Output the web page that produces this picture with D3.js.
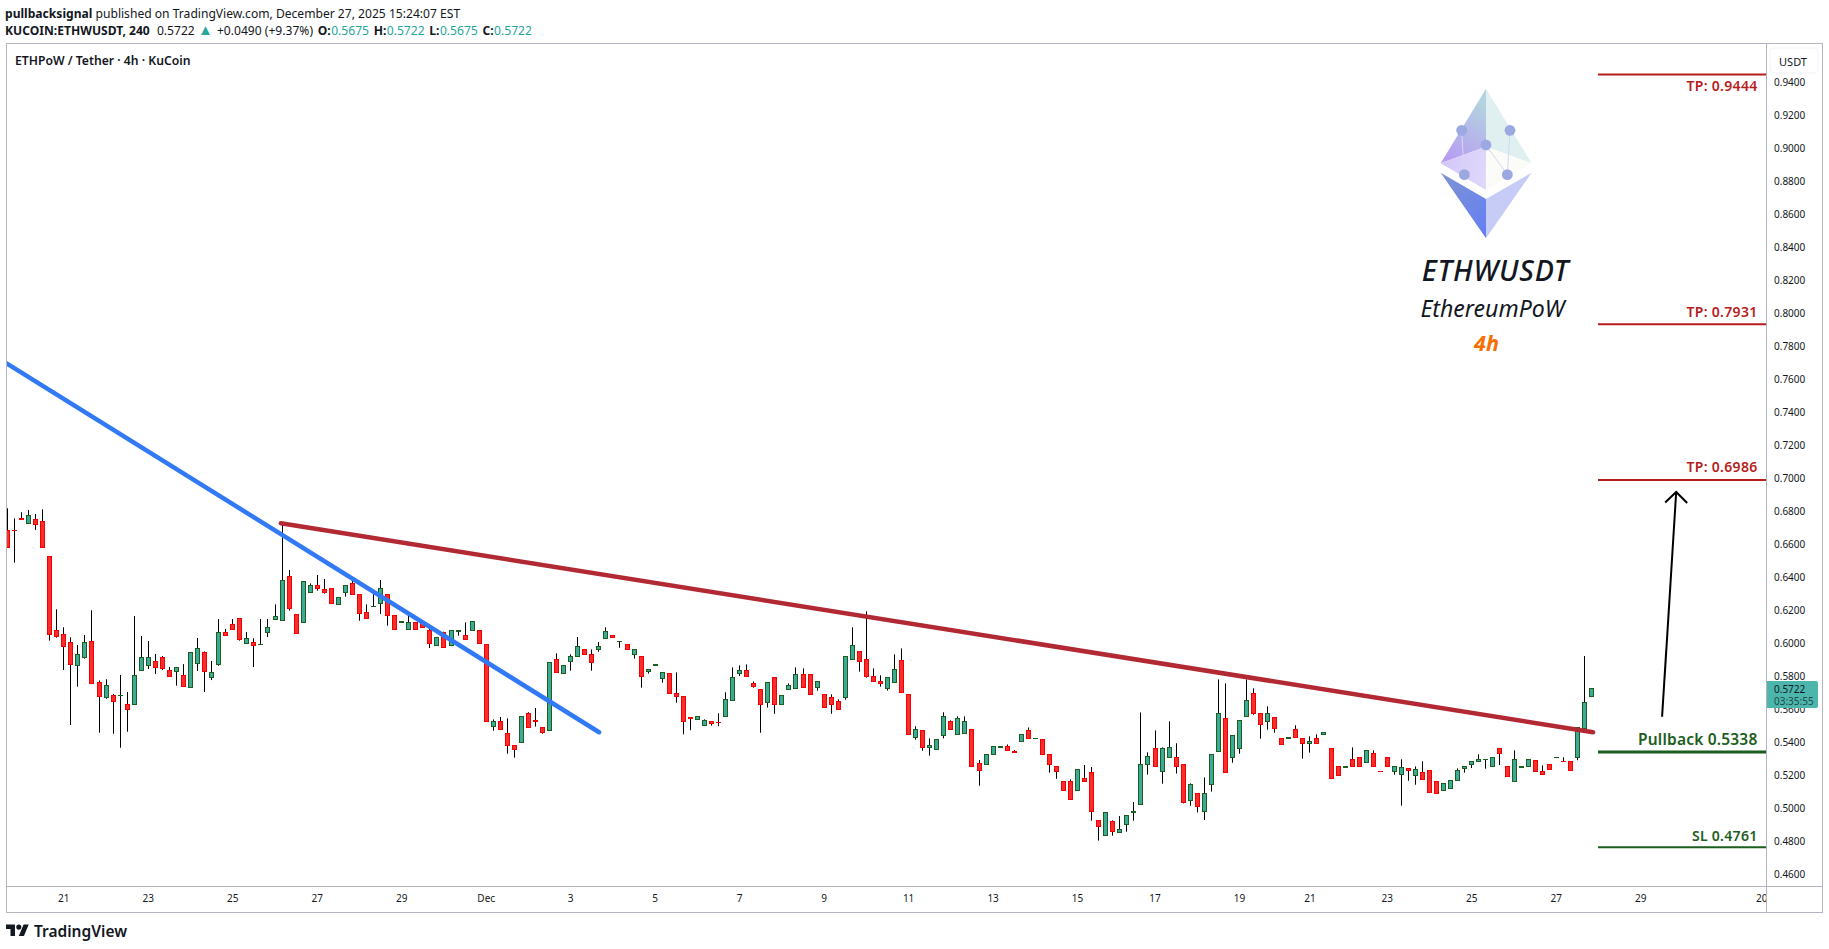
<!DOCTYPE html>
<html><head><meta charset="utf-8">
<script src="https://cdnjs.cloudflare.com/ajax/libs/d3/7.8.5/d3.min.js"></script>
<style>
html,body{margin:0;padding:0;background:#fff;overflow:hidden}
svg{display:block}
text{font-family:"Noto Sans",sans-serif}
</style></head><body>
<svg id="chart" width="1829" height="949"></svg>
<script>
const opens=[.6681,.6680,.6752,.6721,.6745,.6733,.6521,.6072,.6048,.5999,.5864,.5913,.6006,.5757,.5670,.5679,.5678,.5624,.5628,.5834,.5864,.5885,.5909,.5830,.5828,.5800,.5731,.5876,.5939,.5792,.5870,.6060,.6109,.6145,.5998,.5999,.5987,.6064,.6143,.6137,.6400,.6169,.6121,.6307,.6345,.6321,.6327,.6230,.6307,.6357,.6291,.6182,.6217,.6236,.6291,.6163,.6126,.6083,.6121,.6115,.6072,.5986,.6060,.5986,.6071,.6042,.6072,.6072,.5988,.5495,.5521,.5448,.5376,.5398,.5570,.5528,.5485,.5467,.5897,.5812,.5885,.5915,.5957,.5927,.5957,.6024,.6042,.6005,.5988,.5927,.5915,.5824,.5865,.5782,.5812,.5691,.5673,.5546,.5533,.5497,.5521,.5516,.5551,.5652,.5812,.5830,.5751,.5715,.5636,.5788,.5624,.5715,.5721,.5806,.5806,.5727,.5685,.5667,.5642,.5667,.5897,.5945,.5897,.5794,.5763,.5721,.5757,.5891,.5685,.5424,.5467,.5363,.5351,.5436,.5521,.5442,.5448,.5473,.5266,.5260,.5321,.5363,.5369,.5340,.5400,.5466,.5417,.5412,.5321,.5248,.5157,.5157,.5103,.5175,.5212,.4921,.4830,.4915,.4848,.4897,.4974,.5018,.5260,.5357,.5218,.5303,.5303,.5260,.5042,.5085,.4975,.5139,.5339,.5539,.5303,.5357,.5551,.5691,.5569,.5521,.5545,.5418,.5423,.5472,.5418,.5388,.5418,.5442,.5357,.5248,.5247,.5291,.5303,.5272,.5327,.5219,.5303,.5218,.5200,.5236,.5194,.5212,.5224,.5157,.5103,.5115,.5163,.5236,.5260,.5279,.5290,.5248,.5357,.5248,.5157,.5247,.5248,.5285,.5218,.5260,.5302,.5280,.5279,.5303,.5479,.5675];
const highs=[.6812,.6751,.6788,.6802,.6778,.6806,.6521,.6200,.6091,.6030,.5984,.6044,.6194,.5769,.5776,.5687,.5802,.5699,.6159,.6038,.6008,.5929,.5917,.5850,.5848,.5868,.5939,.6026,.5945,.5887,.6141,.6081,.6141,.6145,.6062,.6024,.6141,.6141,.6230,.6721,.6438,.6169,.6370,.6357,.6408,.6384,.6327,.6272,.6345,.6378,.6291,.6230,.6297,.6378,.6291,.6163,.6128,.6165,.6121,.6115,.6085,.6030,.6064,.6072,.6073,.6121,.6127,.6072,.5988,.5533,.5547,.5539,.5376,.5551,.5576,.5602,.5485,.5879,.5933,.5860,.5927,.6032,.5957,.5957,.6002,.6091,.6042,.6007,.5988,.5957,.5915,.5836,.5867,.5818,.5812,.5818,.5673,.5546,.5551,.5533,.5521,.5570,.5697,.5848,.5860,.5866,.5763,.5715,.5757,.5788,.5679,.5751,.5848,.5842,.5806,.5763,.5685,.5685,.5654,.5915,.6091,.5945,.6188,.5842,.5800,.5788,.5927,.5963,.5685,.5491,.5467,.5418,.5412,.5576,.5527,.5551,.5551,.5473,.5287,.5321,.5369,.5371,.5381,.5347,.5442,.5484,.5419,.5412,.5321,.5248,.5157,.5169,.5230,.5256,.5244,.4921,.4969,.4921,.4947,.4951,.5032,.5575,.5333,.5466,.5363,.5521,.5388,.5260,.5145,.5085,.5181,.5321,.5775,.5751,.5436,.5527,.5775,.5721,.5569,.5612,.5545,.5418,.5425,.5497,.5418,.5430,.5442,.5454,.5357,.5248,.5249,.5363,.5303,.5345,.5345,.5219,.5303,.5248,.5291,.5236,.5248,.5279,.5224,.5157,.5145,.5163,.5236,.5248,.5279,.5321,.5292,.5303,.5357,.5248,.5345,.5249,.5291,.5285,.5254,.5260,.5304,.5303,.5279,.5485,.5917,.5722];
const lows=[.6580,.6483,.6750,.6721,.6681,.6580,.6010,.6028,.5832,.5499,.5731,.5901,.5749,.5452,.5658,.5446,.5361,.5458,.5628,.5834,.5838,.5808,.5832,.5798,.5737,.5737,.5731,.5826,.5699,.5771,.5858,.6046,.6083,.6010,.5998,.5850,.5987,.6032,.6137,.6131,.6192,.6058,.6121,.6307,.6313,.6295,.6234,.6230,.6277,.6295,.6131,.6145,.6217,.6171,.6101,.6083,.6126,.6083,.6083,.6091,.5965,.5986,.5974,.5986,.6040,.6022,.6072,.5998,.5519,.5464,.5477,.5325,.5301,.5398,.5485,.5489,.5446,.5467,.5818,.5812,.5828,.5915,.5927,.5828,.5943,.6024,.6030,.5967,.5957,.5901,.5725,.5810,.5865,.5755,.5691,.5634,.5442,.5467,.5533,.5497,.5495,.5491,.5551,.5646,.5796,.5794,.5725,.5452,.5604,.5567,.5624,.5715,.5721,.5727,.5685,.5707,.5606,.5567,.5594,.5652,.5897,.5822,.5786,.5763,.5731,.5707,.5757,.5697,.5442,.5410,.5343,.5313,.5351,.5418,.5473,.5442,.5448,.5248,.5131,.5260,.5321,.5363,.5345,.5331,.5400,.5418,.5417,.5321,.5210,.5173,.5103,.5048,.5103,.5157,.4919,.4798,.4830,.4828,.4848,.4852,.4919,.5018,.5198,.5248,.5143,.5303,.5204,.5024,.5010,.4969,.4923,.5095,.5339,.5212,.5270,.5325,.5551,.5561,.5416,.5470,.5452,.5381,.5423,.5424,.5295,.5331,.5388,.5442,.5175,.5194,.5247,.5248,.5248,.5272,.5248,.5217,.5248,.5198,.5010,.5161,.5137,.5170,.5091,.5085,.5103,.5115,.5163,.5210,.5238,.5279,.5234,.5248,.5256,.5188,.5157,.5247,.5248,.5218,.5200,.5230,.5302,.5278,.5224,.5285,.5479,.5675];
const closes=[.6580,.6678,.6750,.6769,.6719,.6580,.6052,.6040,.5980,.5870,.5927,.5999,.5755,.5677,.5739,.5646,.5680,.5598,.5800,.5909,.5909,.5852,.5846,.5798,.5848,.5737,.5939,.5963,.5828,.5818,.6060,.6046,.6083,.6022,.6024,.5986,.5989,.6091,.6157,.6376,.6210,.6058,.6370,.6345,.6331,.6307,.6238,.6272,.6345,.6295,.6180,.6145,.6219,.6327,.6167,.6083,.6128,.6121,.6083,.6091,.5998,.6030,.5974,.6072,.6073,.6022,.6127,.5998,.5525,.5521,.5477,.5380,.5355,.5551,.5485,.5526,.5458,.5879,.5818,.5860,.5915,.5976,.5927,.5879,.5976,.6067,.6030,.6007,.5957,.5957,.5794,.5836,.5867,.5818,.5691,.5673,.5521,.5544,.5551,.5527,.5513,.5514,.5654,.5788,.5830,.5794,.5733,.5624,.5757,.5624,.5679,.5739,.5806,.5727,.5685,.5763,.5606,.5624,.5594,.5915,.5982,.5885,.5794,.5763,.5751,.5788,.5836,.5697,.5442,.5473,.5363,.5376,.5412,.5551,.5473,.5539,.5521,.5248,.5224,.5321,.5369,.5371,.5345,.5338,.5442,.5418,.5419,.5321,.5260,.5218,.5103,.5048,.5230,.5157,.4975,.4885,.4969,.4854,.4866,.4951,.4976,.5260,.5309,.5248,.5357,.5363,.5248,.5030,.5139,.5006,.5085,.5321,.5569,.5212,.5436,.5527,.5648,.5569,.5503,.5569,.5478,.5381,.5425,.5424,.5388,.5400,.5388,.5454,.5175,.5194,.5249,.5248,.5248,.5345,.5248,.5217,.5248,.5248,.5242,.5224,.5230,.5170,.5091,.5085,.5145,.5163,.5224,.5248,.5279,.5291,.5292,.5303,.5327,.5188,.5291,.5249,.5291,.5218,.5200,.5230,.5304,.5278,.5224,.5485,.5636,.5722];

const priceTicks=[.94,.92,.90,.88,.86,.84,.82,.80,.78,.76,.74,.72,.70,.68,.66,.64,.62,.60,.58,.56,.54,.52,.50,.48,.46];
const timeTickIndex=[8,20,32,44,56,68,80,92,104,116,128,140,152,163,175,185,196,208,220,232,250];
const timeTickLabels=["21","23","25","27","29","Dec","3","5","7","9","11","13","15","17","19","21","23","25","27","29","2026"];

const levelNames=["TP: 0.9444","TP: 0.7931","TP: 0.6986","Pullback 0.5338","SL 0.4761"];
const levelValues=[.9444,.7931,.6986,.5338,.4761];
const redTrendIndex=[38.9,225.3], redTrendPrice=[.6721,.5455];
const blueTrendIndex=[-1,84.1], blueTrendPrice=[.7716,.5455];
const arrowIndex=[235.1,237.1], arrowPrice=[.5549,.6911];

const W=1829,H=949,plotL=6,plotR=1766,plotT=44,plotB=886,frameR=1822,frameB=912;
const x=d3.scaleLinear().domain([0,225]).range([7,7+225*7.04]);
const y=d3.scaleLinear().domain([.94,.46]).range([81.3,873.3]);
const svg=d3.select("#chart");
const defs=svg.append("defs");
defs.append("clipPath").attr("id","plot").append("rect").attr("x",plotL+1).attr("y",plotT).attr("width",plotR-plotL-1).attr("height",plotB-plotT);
defs.append("clipPath").attr("id","taxis").append("rect").attr("x",plotL).attr("y",plotB).attr("width",plotR-plotL).attr("height",frameB-plotB);

// header
const h1=svg.append("text").attr("x",5).attr("y",18).attr("font-size",12.1).attr("fill","#131722");
h1.append("tspan").attr("font-weight",700).text("pullbacksignal");
h1.append("tspan").text(" published on TradingView.com, December 27, 2025 15:24:07 EST");
const h2=svg.append("text").attr("x",5).attr("y",34.5).attr("font-size",12.1).attr("fill","#131722");
h2.append("tspan").attr("font-weight",700).text("KUCOIN:ETHWUSDT, 240");
h2.append("tspan").attr("dx",4).text(" 0.5722 ");
h2.append("tspan").attr("fill","#26a69a").attr("font-size",15).text("▲");
h2.append("tspan").attr("dx",1).text(" +0.0490 (+9.37%) ");
[["O:","0.5675"],["H:","0.5722"],["L:","0.5675"],["C:","0.5722"]].forEach(d=>{
  h2.append("tspan").attr("dx",1.5).attr("font-weight",700).text(d[0]);
  h2.append("tspan").attr("dx",.5).attr("fill","#26a69a").text(d[1]+" ");
});

// frame
const fc="#b2b5be";
svg.append("rect").attr("x",6.5).attr("y",43.5).attr("width",frameR-6).attr("height",frameB-43).attr("fill","none").attr("stroke",fc);
svg.append("line").attr("x1",6.5).attr("x2",frameR+.5).attr("y1",886.5).attr("y2",886.5).attr("stroke",fc);
svg.append("line").attr("x1",1766.5).attr("x2",1766.5).attr("y1",43.5).attr("y2",912.5).attr("stroke",fc);
svg.append("text").attr("x",15).attr("y",65).attr("font-size",12.2).attr("font-weight",600).attr("fill","#131722").text("ETHPoW / Tether · 4h · KuCoin");

// candles
const data=opens.map((o,i)=>({i,o,h:highs[i],l:lows[i],c:closes[i]}));
const g=svg.append("g").attr("clip-path","url(#plot)");
const cg=g.selectAll("g.k").data(data).join("g").attr("class","k");
const cx=d=>Math.round(x(d.i))+.5;
cg.append("line").attr("x1",cx).attr("x2",cx).attr("y1",d=>y(d.h)).attr("y2",d=>y(d.l)).attr("stroke","#000").attr("stroke-width",1);
cg.append("rect").attr("x",d=>cx(d)-2).attr("width",4)
  .attr("y",d=>Math.round(y(Math.max(d.o,d.c)))+.5)
  .attr("height",d=>Math.max(.01,Math.round(y(Math.min(d.o,d.c)))-Math.round(y(Math.max(d.o,d.c)))))
  .attr("fill",d=>d.c>=d.o?"#3daa97":"#fb2d2d")
  .attr("stroke",d=>d.c>=d.o?"#1b5e20":"#f00000").attr("stroke-width",1);

// trendlines
const ln=d3.line().x(d=>x(d[0])).y(d=>y(d[1]));
g.append("path").attr("d",ln(d3.zip(redTrendIndex,redTrendPrice))).attr("fill","none").attr("stroke","#b22833").attr("stroke-width",4.5).attr("stroke-linecap","round");
g.append("path").attr("d",ln(d3.zip(blueTrendIndex,blueTrendPrice))).attr("fill","none").attr("stroke","#3179f5").attr("stroke-width",4.5).attr("stroke-linecap","round");

// levels
const levelColor=["#b71c1c","#b71c1c","#b71c1c","#1b5e20","#1b5e20"];
const levelWidth=[2,2,2,3,2];
const levelTextDy=[11,-12.5,-13,-12.5,-11];
levelValues.forEach((v,i)=>{
  g.append("line").attr("x1",1598).attr("x2",1766).attr("y1",y(v)+.5).attr("y2",y(v)+.5).attr("stroke",levelColor[i]).attr("stroke-width",levelWidth[i]);
  svg.append("text").attr("x",1757.5).attr("y",y(v)+levelTextDy[i]).attr("text-anchor","end").attr("dominant-baseline","central")
    .attr("font-size",i==3?15.5:14).attr("font-weight",600).attr("letter-spacing",i==3?.2:.3).attr("fill",levelColor[i]).text(levelNames[i]);
});

// arrow
const tip=[x(arrowIndex[1]),y(arrowPrice[1])];
g.append("path").attr("d",ln(d3.zip(arrowIndex,arrowPrice))).attr("fill","none").attr("stroke","#000").attr("stroke-width",2);
g.append("path").attr("d",`M${tip[0]-11},${tip[1]+10.5}L${tip[0]},${tip[1]}L${tip[0]+11},${tip[1]+11}`).attr("fill","none").attr("stroke","#000").attr("stroke-width",2);

// logo
const L=(a,b)=>[1400+a/3,40+b/3];
const lg=svg.append("g");
const grad=(id,x1,y1,x2,y2,c1,c2)=>{const q=defs.append("linearGradient").attr("id",id).attr("gradientUnits","userSpaceOnUse").attr("x1",L(x1,y1)[0]).attr("y1",L(x1,y1)[1]).attr("x2",L(x2,y2)[0]).attr("y2",L(x2,y2)[1]);q.append("stop").attr("offset",0).attr("stop-color",c1);q.append("stop").attr("offset",1).attr("stop-color",c2);};
grad("gA",258,200,150,360,"#b4d2df","#b79df2");
grad("gB",122,370,258,400,"#d3c6f8","#e0d8fb");
grad("gC",130,400,258,560,"#7d93d2","#6680f2");
const poly=(pts,f)=>lg.append("polygon").attr("points",pts.map(p=>L(p[0],p[1]).join(",")).join(" ")).attr("fill",f);
poly([[258,146],[122,370],[258,320]],"url(#gA)");
poly([[258,146],[395,370],[258,320]],"#e0f0f1");
poly([[122,370],[258,320],[258,450]],"url(#gB)");
poly([[258,320],[395,370],[258,450]],"#fbfcf8");
poly([[122,398],[258,477],[258,595]],"url(#gC)");
poly([[258,477],[395,398],[258,595]],"#c6ccf6");
[[185,271,193,404],[330,271,322,404],[258,315,193,404],[258,315,322,404]].forEach(s=>{
  lg.append("line").attr("x1",L(s[0],s[1])[0]).attr("y1",L(s[0],s[1])[1]).attr("x2",L(s[2],s[3])[0]).attr("y2",L(s[2],s[3])[1]).attr("stroke","#d3d7f6").attr("stroke-width",1);
});
[[185,271],[330,271],[258,315],[193,404],[322,404]].forEach(p=>{
  lg.append("circle").attr("cx",L(p[0],p[1])[0]).attr("cy",L(p[0],p[1])[1]).attr("r",5.4).attr("fill","#9ca8e2");
});
svg.append("text").attr("x",1495.5).attr("y",269.5).attr("text-anchor","middle").attr("dominant-baseline","central").attr("font-size",28.6).attr("font-style","italic").attr("font-weight",500).attr("letter-spacing",.8).attr("fill","#131722").text("ETHWUSDT");
svg.append("text").attr("x",1492.5).attr("y",308).attr("text-anchor","middle").attr("dominant-baseline","central").attr("font-size",23.1).attr("font-style","italic").attr("fill","#131722").text("EthereumPoW");
svg.append("text").attr("x",1486.5).attr("y",342).attr("text-anchor","middle").attr("dominant-baseline","central").attr("font-size",21.5).attr("font-style","italic").attr("font-weight",700).attr("fill","#f57000").text("4h");

// price axis
const ya=d3.axisRight(y).tickValues(priceTicks).tickSize(0).tickPadding(0).tickFormat(d3.format(".4f"));
const yg=svg.append("g").attr("transform","translate(1774,0.8)").call(ya);
yg.select(".domain").remove();
yg.selectAll("text").attr("font-size",10).attr("fill","#131722").attr("font-family","'Noto Sans',sans-serif");

// usdt button
svg.append("rect").attr("x",1770).attr("y",48).attr("width",48).attr("height",25).attr("rx",4).attr("fill","#fff").attr("stroke","#f0f3fa");
svg.append("text").attr("x",1793).attr("y",61).attr("text-anchor","middle").attr("dominant-baseline","central").attr("font-size",11).attr("fill","#131722").text("USDT");

// last price tag
svg.append("path").attr("d","M1767,681H1816a2,2 0 0 1 2,2V706a2,2 0 0 1 -2,2H1767Z").attr("fill","#4db6ac");
svg.append("text").attr("x",1774).attr("y",688.5).attr("dominant-baseline","central").attr("font-size",10).attr("fill","#131722").text("0.5722");
svg.append("text").attr("x",1774).attr("y",700.5).attr("dominant-baseline","central").attr("font-size",10).attr("fill","#1f4a4a").text("03:35:55");

// time axis
const xa=d3.axisBottom(x).tickValues(timeTickIndex).tickSize(0).tickPadding(0).tickFormat((d,i)=>timeTickLabels[i]);
const xg=svg.append("g").attr("clip-path","url(#taxis)").append("g").attr("transform","translate(0,894.5)").call(xa);
xg.select(".domain").remove();
xg.selectAll("text").attr("font-size",10).attr("fill","#131722").attr("font-family","'Noto Sans',sans-serif");

// watermark
const tv=svg.append("g").attr("transform","translate(6,922) scale(.64)").attr("fill","#131722");
tv.append("path").attr("d","M14 22H7V11H0V4h14v18zM28 22h-8l7.5-18h8L28 22z");
tv.append("circle").attr("cx",20).attr("cy",8).attr("r",4);
svg.append("text").attr("x",34).attr("y",937).attr("font-size",15.5).attr("font-weight",600).attr("fill","#131722").text("TradingView");
</script></body></html>
